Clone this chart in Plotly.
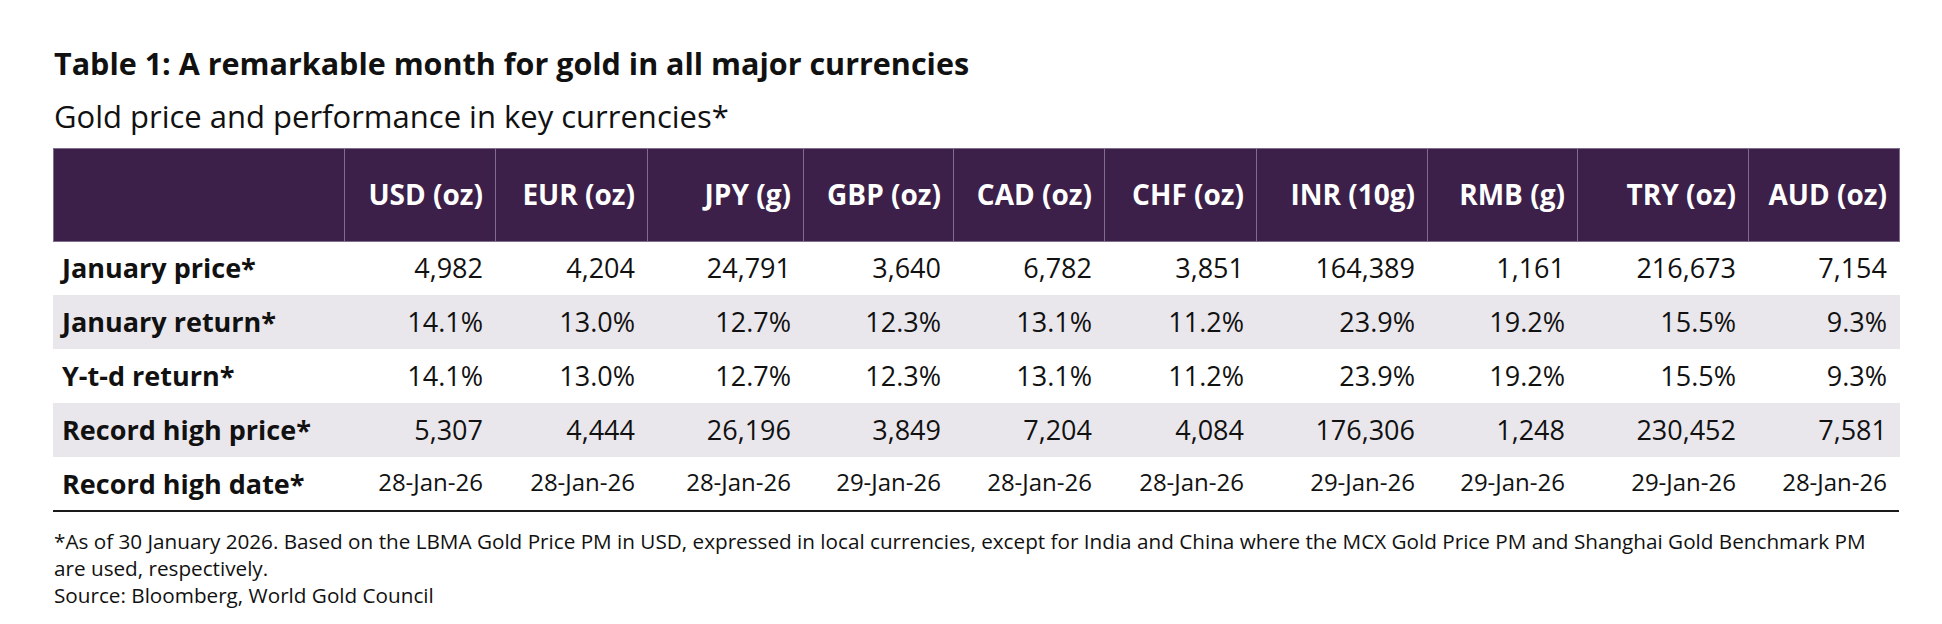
import plotly.graph_objects as go

# Data ---
currencies = ['USD (oz)', 'EUR (oz)', 'JPY (g)', 'GBP (oz)', 'CAD (oz)',
              'CHF (oz)', 'INR (10g)', 'RMB (g)', 'TRY (oz)', 'AUD (oz)']
row_labels = ['January price*', 'January return*', 'Y-t-d return*',
              'Record high price*', 'Record high date*']
jan_price = [4982, 4204, 24791, 3640, 6782, 3851, 164389, 1161, 216673, 7154]
jan_return = [14.1, 13.0, 12.7, 12.3, 13.1, 11.2, 23.9, 19.2, 15.5, 9.3]
ytd_return = [14.1, 13.0, 12.7, 12.3, 13.1, 11.2, 23.9, 19.2, 15.5, 9.3]
record_price = [5307, 4444, 26196, 3849, 7204, 4084, 176306, 1248, 230452, 7581]
record_date = ['28-Jan-26', '28-Jan-26', '28-Jan-26', '29-Jan-26', '28-Jan-26',
               '28-Jan-26', '29-Jan-26', '29-Jan-26', '29-Jan-26', '28-Jan-26']

title = 'Table 1: A remarkable month for gold in all major currencies'
subtitle = 'Gold price and performance in key currencies*'
footnote = ('*As of 30 January 2026. Based on the LBMA Gold Price PM in USD, expressed in local '
            'currencies, except for India and China where the MCX Gold Price PM and Shanghai Gold '
            'Benchmark PM<br>are used, respectively.<br>Source: Bloomberg, World Gold Council')

# Layout, in page pixels ---
W, H = 1942, 624
OFF = 8                      # default body margin of the html page
FW, FH = W - 2 * OFF, H - 2 * OFF
col_edges = [53, 344, 495, 647, 803, 953, 1104, 1256, 1427, 1577, 1748, 1899]
header_top, header_h, row_h = 148, 93, 54
head_size, body_size, date_size = 28, 27, 24
cell_pad = 8                 # plotly table inner padding
purple = '#3c2049'
stripe = '#e9e7ec'
ink = '#111111'
clear = 'rgba(0,0,0,0)'
font = 'Open Sans'


def px_x(v):
    return (v - OFF) / FW


def px_y(v):
    return 1 - (v - OFF) / FH


def text_top(center, size):
    # top of a table row so that a single line of text sits on the row centre
    return center + 0.36 * size - (cell_pad + 0.75 * size)


# Cell strings ---
n_cur = len(currencies)
columns = [row_labels[:4]]
for i in range(n_cur):
    columns.append([f'{jan_price[i]:,}', f'{jan_return[i]:.1f}%', f'{ytd_return[i]:.1f}%',
                    f'{record_price[i]:,}'])
date_row = [row_labels[4]] + record_date
headers = [''] + currencies
aligns = ['left'] + ['right'] * n_cur

widths = [col_edges[i + 1] - col_edges[i] for i in range(len(col_edges) - 1)]
row_fill = [['white' if k % 2 == 0 else stripe for k in range(len(row_labels))]]

fig = go.Figure()

# background grid: fills + header separators
fig.add_trace(go.Table(
    domain=dict(x=[px_x(col_edges[0]), px_x(col_edges[-1])], y=[0, px_y(header_top)]),
    columnwidth=widths,
    header=dict(values=[''] * len(headers), fill_color=purple, height=header_h,
                line=dict(color='#7e6d8d', width=1)),
    cells=dict(values=[[''] * len(row_labels)] * len(headers), fill_color=row_fill,
               line=dict(color=row_fill, width=1), height=row_h),
))

# text layers, inset a little from the grid
text_edges = [col_edges[0] + 1] + [e - 4 for e in col_edges[1:]]
text_widths = [text_edges[i + 1] - text_edges[i] for i in range(len(text_edges) - 1)]
text_x = [px_x(text_edges[0]), px_x(text_edges[-1])]
body_top = header_top + header_h
head_text_top = text_top(header_top + header_h / 2, head_size)
body_text_top = text_top(body_top + row_h / 2, body_size)
date_text_top = text_top(body_top + 4.5 * row_h, body_size)

fig.add_trace(go.Table(
    domain=dict(x=text_x, y=[0, px_y(head_text_top)]),
    columnwidth=text_widths,
    header=dict(values=headers, fill_color=clear, height=body_text_top - head_text_top,
                line=dict(color=clear, width=0), align=aligns,
                font=dict(family=font, size=head_size, color='white', weight=700)),
    cells=dict(values=columns, fill_color=clear, height=row_h,
               line=dict(color=clear, width=0), align=aligns,
               font=dict(family=font, size=body_size, color=ink,
                         weight=[700] + [400] * n_cur)),
))

# last row (dates) is set a size smaller
fig.add_trace(go.Table(
    domain=dict(x=text_x, y=[0, px_y(date_text_top)]),
    columnwidth=text_widths,
    header=dict(values=date_row, fill_color=clear, height=row_h,
                line=dict(color=clear, width=0), align=aligns,
                font=dict(family=font, size=[body_size] + [date_size] * n_cur, color=ink,
                          weight=[700] + [400] * n_cur)),
    cells=dict(values=[['']] * len(date_row), fill_color=clear, height=20,
               line=dict(color=clear, width=0)),
))

# rule under the table
table_bottom = body_top + row_h * len(row_labels)
fig.add_shape(type='line', xref='paper', yref='paper',
              x0=px_x(col_edges[0]), x1=px_x(col_edges[-1]),
              y0=px_y(table_bottom), y1=px_y(table_bottom),
              line=dict(color='#1a1a1a', width=2))

fig.add_annotation(text='<b>' + title + '</b>', xref='paper', yref='paper',
                   x=px_x(52), y=px_y(63), xanchor='left', yanchor='middle', showarrow=False,
                   font=dict(family=font, size=30.5, color=ink))
fig.add_annotation(text=subtitle, xref='paper', yref='paper',
                   x=px_x(52), y=px_y(116), xanchor='left', yanchor='middle', showarrow=False,
                   font=dict(family=font, size=31, color=ink))
fig.add_annotation(text=footnote, xref='paper', yref='paper', align='left',
                   x=px_x(52), y=px_y(525), xanchor='left', yanchor='top', showarrow=False,
                   font=dict(family=font, size=20.7, color=ink))

fig.update_layout(width=FW, height=FH, margin=dict(l=0, r=0, t=0, b=0),
                  paper_bgcolor='white', plot_bgcolor='white', showlegend=False)

fig.write_html('out.html')
